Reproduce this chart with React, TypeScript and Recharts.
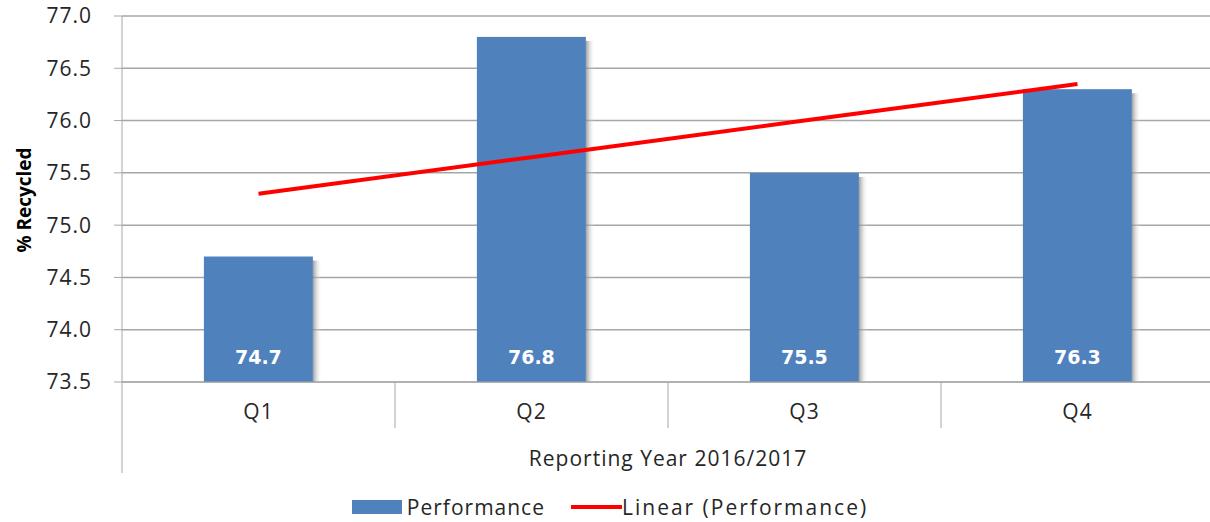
import { ComposedChart, Bar, Line, XAxis, YAxis, CartesianGrid, Legend, LabelList } from 'recharts'

const quarters = ['Q1', 'Q2', 'Q3', 'Q4']
const performance = [74.7, 76.8, 75.5, 76.3]
// linear trendline as drawn in the picture
const trend = [75.3, 75.65, 76.0, 76.35]
const yTicks = [73.5, 74.0, 74.5, 75.0, 75.5, 76.0, 76.5, 77.0]

const data = quarters.map((q, i) => ({ name: q, performance: performance[i], trend: trend[i] }))

const FONT = '"Open Sans", sans-serif'
const GRID = '#a6a6a6'
const BLUE = '#4f81bd'
const RED = '#ff0000'
const TEXT = '#262626'

const CHART_W = 1224
const PLOT_LEFT = 122
const PLOT_RIGHT = 1214
const HALF_BAND = (PLOT_RIGHT - PLOT_LEFT) / quarters.length / 2

function ShadowBar(props: any) {
  const { x, y, width, height, index } = props
  const id = `shade-${index}`
  return (
    <g>
      <defs>
        <linearGradient id={id} x1="0" y1="0" x2="1" y2="0">
          <stop offset="0%" stopColor="#7f7f7f" stopOpacity={0.75} />
          <stop offset="100%" stopColor="#ffffff" stopOpacity={0} />
        </linearGradient>
      </defs>
      <rect x={x + width} y={y + 4} width={9} height={height - 4} fill={`url(#${id})`} />
      <rect x={x} y={y} width={width} height={height} fill={BLUE} />
    </g>
  )
}

// tick y arrives 8px below the axis line (default tickSize + tickMargin)
function QuarterTick(props: any) {
  const { x, y, payload, index } = props
  const top = y - 8
  return (
    <g>
      {index > 0 && <line x1={x - HALF_BAND} x2={x - HALF_BAND} y1={top} y2={top + 46} stroke={GRID} strokeWidth={1} />}
      {index === 0 && <line x1={x - HALF_BAND} x2={x - HALF_BAND} y1={top} y2={top + 91} stroke={GRID} strokeWidth={1} />}
      <text x={x} y={top + 37} textAnchor="middle" fontSize={21} letterSpacing={1} fontFamily={FONT} fill={TEXT}>
        {payload.value}
      </text>
    </g>
  )
}

function BarValue(props: any) {
  const { x, y, width, height, value } = props
  return (
    <text x={x + width / 2} y={y + height - 18} textAnchor="middle" fontSize={19} fontWeight="bold" fontFamily='"DejaVu Sans", sans-serif' fill="#ffffff">
      {value.toFixed(1)}
    </text>
  )
}

function ChartLegend() {
  return (
    <div style={{ height: 50, display: 'flex', justifyContent: 'center', alignItems: 'flex-end', fontFamily: FONT, fontSize: 21, letterSpacing: 1, color: TEXT }}>
      <div style={{ display: 'flex', alignItems: 'center', marginBottom: 1, marginLeft: 6 }}>
        <span style={{ display: 'inline-block', width: 50, height: 14, background: BLUE, marginRight: 5 }} />
        <span>Performance</span>
        <span style={{ display: 'inline-block', width: 51, height: 4, background: RED, marginLeft: 26 }} />
        <span style={{ letterSpacing: 2 }}>Linear (Performance)</span>
      </div>
    </div>
  )
}

export default function App() {
  return (
    <div style={{ position: 'absolute', left: 0, top: 0, width: 1210, height: 522, overflow: 'hidden', background: '#fff' }}>
      <ComposedChart width={CHART_W} height={522} data={data} margin={{ top: 16, right: CHART_W - PLOT_RIGHT, left: 0, bottom: 0 }} barCategoryGap="30%">
        <CartesianGrid vertical={false} stroke={GRID} strokeWidth={1.5} />
        <XAxis
          dataKey="name"
          height={90}
          axisLine={{ stroke: GRID }}
          tickLine={false}
          tick={<QuarterTick />}
          interval={0}
          label={{ value: 'Reporting Year 2016/2017', position: 'insideBottom', offset: 6, fontSize: 21, letterSpacing: 1, fontFamily: FONT, fill: TEXT }}
        />
        <YAxis
          width={PLOT_LEFT}
          domain={[73.5, 77]}
          ticks={yTicks}
          tickFormatter={(v: number) => v.toFixed(1)}
          axisLine={{ stroke: GRID }}
          tickLine={{ stroke: GRID }}
          tickSize={8}
          tickMargin={22}
          tick={{ fontSize: 21, letterSpacing: 1, fontFamily: FONT, fill: TEXT }}
          label={{
            content: () => (
              <text transform="translate(31,200) rotate(-90)" textAnchor="middle" fontSize={19} fontWeight="bold" fontFamily={FONT} fill="#000">
                % Recycled
              </text>
            ),
          }}
        />
        <Legend verticalAlign="bottom" content={<ChartLegend />} height={50} />
        <Bar dataKey="performance" name="Performance" fill={BLUE} shape={<ShadowBar />} isAnimationActive={false}>
          <LabelList dataKey="performance" content={<BarValue />} />
        </Bar>
        <Line dataKey="trend" name="Linear (Performance)" stroke={RED} strokeWidth={4} dot={false} activeDot={false} type="linear" isAnimationActive={false} />
      </ComposedChart>
    </div>
  )
}
